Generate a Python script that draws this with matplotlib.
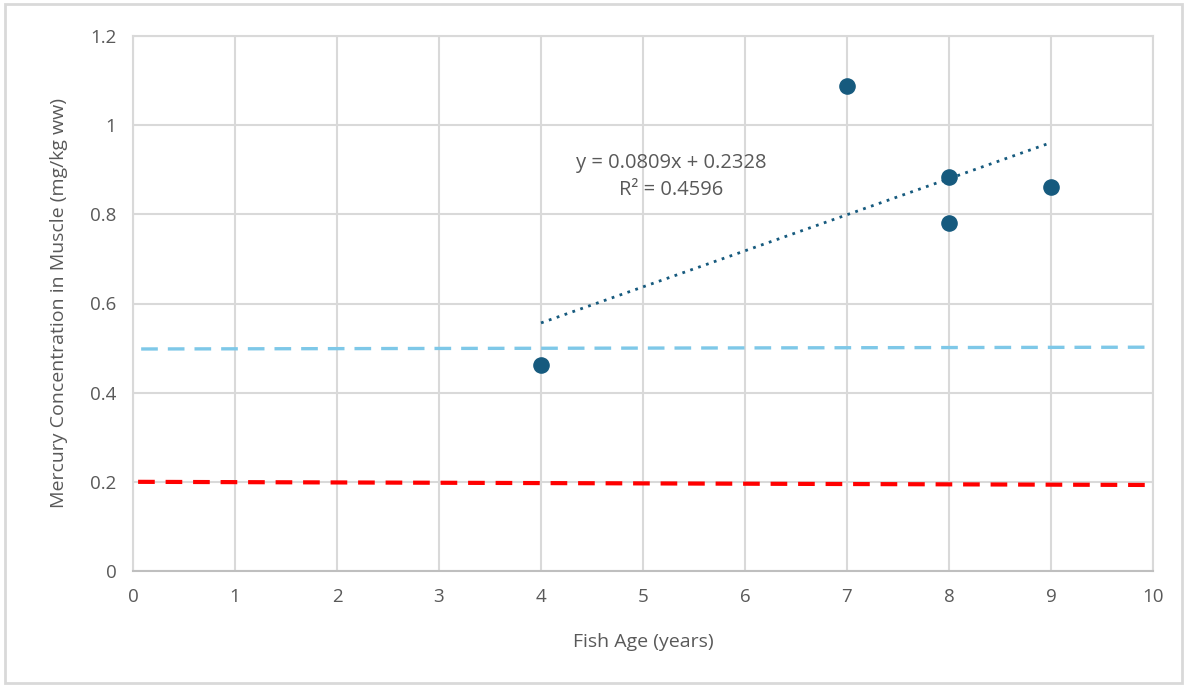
import numpy as np
import matplotlib.pyplot as plt
from matplotlib.patches import Rectangle

plt.rcParams['font.family'] = ['Open Sans', 'DejaVu Sans']

# data
fish_age = [4, 7, 8, 8, 9]
mercury = [0.462, 1.088, 0.884, 0.781, 0.861]

# trendline from the chart label
slope = 0.0809
intercept = 0.2328
r_squared = 0.4596
trend_x = [4, 9]

# guideline levels (start, end)
blue_x = [0.08, 10.0]
blue_y = [0.498, 0.502]
red_x = [0.05, 9.92]
red_y = [0.200, 0.193]

x_ticks = list(range(0, 11))
y_ticks = [0, 0.2, 0.4, 0.6, 0.8, 1, 1.2]
y_tick_labels = ['0', '0.2', '0.4', '0.6', '0.8', '1', '1.2']

text_grey = '#595959'
grid_grey = '#d9d9d9'
point_col = '#165a7e'

fig = plt.figure(figsize=(11.87, 6.87), dpi=100)
ax = fig.add_axes([133 / 1187, 1 - 571 / 687, 1020 / 1187, 535 / 687])

# outer border like the Excel chart area
fig.patches.append(Rectangle((5 / 1187, 4 / 687), 1177 / 1187, 679 / 687,
                             transform=fig.transFigure, fill=False,
                             edgecolor='#d9d9d9', linewidth=2))

ax.set_xlim(0, 10)
ax.set_ylim(0, 1.2)
ax.set_xticks(x_ticks)
ax.set_yticks(y_ticks)
ax.set_yticklabels(y_tick_labels)
ax.grid(True, color=grid_grey, linewidth=1.5)
ax.set_axisbelow(True)
for side in ['top', 'right', 'left']:
    ax.spines[side].set_color(grid_grey)
    ax.spines[side].set_linewidth(1.5)
ax.spines['bottom'].set_color('#bfbfbf')
ax.spines['bottom'].set_linewidth(1.5)
ax.tick_params(length=0, labelsize=13.5, colors=text_grey, pad=12)

ax.plot(blue_x, blue_y, color='#7ec8e8', linestyle=(0, (5, 3)), linewidth=2.4)
ax.plot(red_x, red_y, color='#ff0000', linestyle=(0, (4, 2.6)), linewidth=3)

tx = np.array(trend_x, dtype=float)
ax.plot(tx, slope * tx + intercept, color=point_col, linestyle=(0, (1, 2)),
        linewidth=2)

ax.scatter(fish_age, mercury, s=120, color=point_col, zorder=5)

ax.text(5.28, 0.915, f'y = {slope}x + {intercept}', ha='center', va='center',
        fontsize=14.5, color=text_grey)
ax.text(5.28, 0.855, f'R\u00b2 = {r_squared}', ha='center', va='center',
        fontsize=14.5, color=text_grey)

ax.set_xlabel('Fish Age (years)', fontsize=14, color=text_grey, labelpad=20)
ax.set_ylabel('Mercury Concentration in Muscle (mg/kg ww)', fontsize=14,
              color=text_grey, labelpad=16)

fig.savefig('out.png', dpi=100)
